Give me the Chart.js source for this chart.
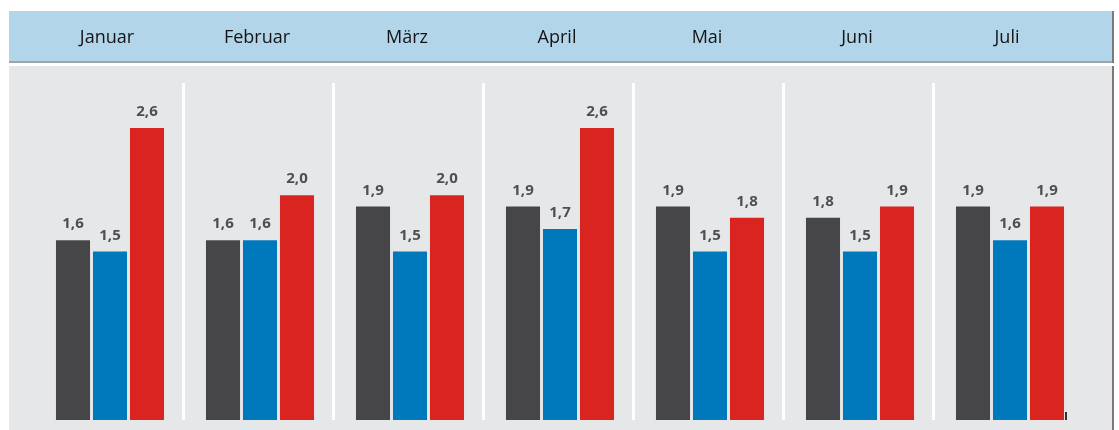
<!DOCTYPE html>
<html>
<head>
<meta charset="utf-8">
<script src="https://cdn.jsdelivr.net/npm/chart.js@4"></script>
<style>
  html, body { margin: 0; padding: 0; background: #fff; }
  #wrap { width: 1119px; height: 430px; }
</style>
</head>
<body>
<div id="wrap"><canvas id="myBarChart"></canvas></div>
<script>
// months shown in the header band
var months = ["Januar", "Februar", "März", "April", "Mai", "Juni", "Juli"];

// three series per month (dark, blue, red)
var seriesDark = [1.6, 1.6, 1.9, 1.9, 1.9, 1.8, 1.9];
var seriesBlue = [1.5, 1.6, 1.5, 1.7, 1.5, 1.5, 1.6];
var seriesRed  = [2.6, 2.0, 2.0, 2.6, 1.8, 1.9, 1.9];

var FONT = "'Open Sans', 'Noto Sans', 'DejaVu Sans', sans-serif";

// header band + grey panel behind the bars
var panelPlugin = {
    id: 'panel',
    beforeDraw: function (chart) {
        var c = chart.ctx;
        c.save();
        c.fillStyle = '#ffffff';
        c.fillRect(0, 0, chart.width, chart.height);
        // header
        c.fillStyle = '#b3d5e9';
        c.fillRect(9, 11, 1104, 51);
        c.fillStyle = '#9ea3a8';
        c.fillRect(9, 61, 1104, 2);
        // panel
        c.fillStyle = '#e6e7e9';
        c.fillRect(9, 66, 1104, chart.height - 66);
        // right edge
        c.fillStyle = '#7a7a7c';
        c.fillRect(1112, 11, 2, 52);
        c.fillRect(1112, 66, 2, chart.height - 66);
        c.restore();
    },
    beforeDatasetsDraw: function (chart) {
        // white separators between months
        var c = chart.ctx;
        var x = chart.scales.x;
        var area = chart.chartArea;
        c.save();
        c.fillStyle = '#ffffff';
        for (var i = 0; i < months.length - 1; i++) {
            var px = (x.getPixelForValue(i) + x.getPixelForValue(i + 1)) / 2;
            c.fillRect(Math.round(px) - 3, area.top, 3, area.bottom - area.top);
        }
        c.restore();
    },
    afterDraw: function (chart) {
        // month names in the header, placed by the x scale
        var c = chart.ctx;
        var x = chart.scales.x;
        var area = chart.chartArea;
        c.save();
        c.font = '18px ' + FONT;
        c.fillStyle = '#141414';
        c.textAlign = 'center';
        c.textBaseline = 'middle';
        months.forEach(function (m, i) {
            c.fillText(m, x.getPixelForValue(i) - 3, 38);
        });
        // little tick at the end of the baseline
        c.fillStyle = '#333335';
        c.fillRect(area.right - 20, area.bottom - 8, 2, 8);
        c.restore();
    }
};

// value labels above bars, German decimal comma
var labelPlugin = {
    id: 'valueLabels',
    afterDatasetsDraw: function (chart) {
        var c = chart.ctx;
        c.save();
        c.font = 'bold 15px ' + FONT;
        c.fillStyle = '#4f4f51';
        c.textAlign = 'center';
        c.textBaseline = 'alphabetic';
        chart.data.datasets.forEach(function (ds, di) {
            chart.getDatasetMeta(di).data.forEach(function (bar, i) {
                var txt = ds.data[i].toFixed(1).replace('.', ',');
                c.fillText(txt, bar.x, bar.y - 12);
            });
        });
        c.restore();
    }
};

var ctx = document.getElementById('myBarChart').getContext('2d');
var chart = new Chart(ctx, {
    type: 'bar',
    data: {
        labels: months,
        datasets: [
            {
                label: 'Reihe 1',
                data: seriesDark,
                backgroundColor: '#464547',
            },
            {
                label: 'Reihe 2',
                data: seriesBlue,
                backgroundColor: '#0079bc',
            },
            {
                label: 'Reihe 3',
                data: seriesRed,
                backgroundColor: '#da2420',
            },
        ]
    },
    options: {
        responsive: true,
        maintainAspectRatio: false,
        animation: false,
        layout: {
            padding: { left: 35, right: 34, top: 83, bottom: 10 }
        },
        plugins: {
            legend: { display: false },
            tooltip: { enabled: false }
        },
        datasets: {
            bar: {
                categoryPercentage: 0.74,
                barPercentage: 0.92
            }
        },
        scales: {
            x: {
                display: false
            },
            y: {
                display: false,
                min: 0,
                max: 3.0
            }
        }
    },
    plugins: [panelPlugin, labelPlugin]
});
</script>
</body>
</html>
